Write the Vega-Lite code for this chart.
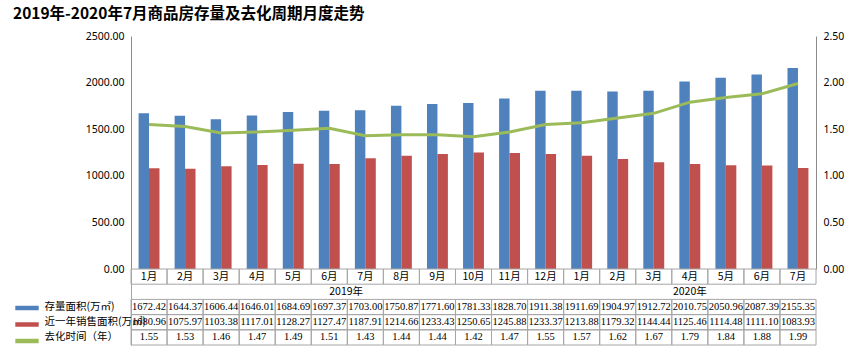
{
  "$schema": "https://vega.github.io/schema/vega-lite/v6.json",
  "padding": {"left": 13, "top": 6, "right": 5, "bottom": 5},
  "config": {"view": {"stroke": null}},
  "title": {"text": "2019年-2020年7月商品房存量及去化周期月度走势", "fontSize": 15.5, "fontWeight": "bold", "font": "Noto Sans CJK SC", "color": "#000", "offset": 9, "dx": -8},
  "data": {"values": [
      {"key": "2019-01", "mon": "1月", "year": "2019年", "stock": 1672.42, "sales": 1080.96, "time": 1.55},
      {"key": "2019-02", "mon": "2月", "year": "2019年", "stock": 1644.37, "sales": 1075.97, "time": 1.53},
      {"key": "2019-03", "mon": "3月", "year": "2019年", "stock": 1606.44, "sales": 1103.38, "time": 1.46},
      {"key": "2019-04", "mon": "4月", "year": "2019年", "stock": 1646.01, "sales": 1117.01, "time": 1.47},
      {"key": "2019-05", "mon": "5月", "year": "2019年", "stock": 1684.69, "sales": 1128.27, "time": 1.49},
      {"key": "2019-06", "mon": "6月", "year": "2019年", "stock": 1697.37, "sales": 1127.47, "time": 1.51},
      {"key": "2019-07", "mon": "7月", "year": "2019年", "stock": 1703.00, "sales": 1187.91, "time": 1.43},
      {"key": "2019-08", "mon": "8月", "year": "2019年", "stock": 1750.87, "sales": 1214.66, "time": 1.44},
      {"key": "2019-09", "mon": "9月", "year": "2019年", "stock": 1771.60, "sales": 1233.43, "time": 1.44},
      {"key": "2019-10", "mon": "10月", "year": "2019年", "stock": 1781.33, "sales": 1250.65, "time": 1.42},
      {"key": "2019-11", "mon": "11月", "year": "2019年", "stock": 1828.70, "sales": 1245.88, "time": 1.47},
      {"key": "2019-12", "mon": "12月", "year": "2019年", "stock": 1911.38, "sales": 1233.37, "time": 1.55},
      {"key": "2020-01", "mon": "1月", "year": "2020年", "stock": 1911.69, "sales": 1213.88, "time": 1.57},
      {"key": "2020-02", "mon": "2月", "year": "2020年", "stock": 1904.97, "sales": 1179.32, "time": 1.62},
      {"key": "2020-03", "mon": "3月", "year": "2020年", "stock": 1912.72, "sales": 1144.44, "time": 1.67},
      {"key": "2020-04", "mon": "4月", "year": "2020年", "stock": 2010.75, "sales": 1125.46, "time": 1.79},
      {"key": "2020-05", "mon": "5月", "year": "2020年", "stock": 2050.96, "sales": 1114.48, "time": 1.84},
      {"key": "2020-06", "mon": "6月", "year": "2020年", "stock": 2087.39, "sales": 1111.10, "time": 1.88},
      {"key": "2020-07", "mon": "7月", "year": "2020年", "stock": 2155.35, "sales": 1083.93, "time": 1.99}
  ]},
  "bounds": "flush",
  "spacing": 0,
  "vconcat": [
    {
      "width": 685,
      "height": 233,
      "layer": [
        {
          "transform": [{"fold": ["stock", "sales"], "as": ["series", "value"]}],
          "mark": {"type": "bar"},
          "encoding": {
            "x": {"field": "key", "type": "nominal", "scale": {"paddingInner": 0.42, "paddingOuter": 0.21}, "axis": null},
            "xOffset": {"field": "series", "type": "nominal", "sort": ["stock", "sales"]},
            "y": {"field": "value", "type": "quantitative", "scale": {"domain": [0, 2500]},
              "axis": {"title": null, "tickCount": 5, "format": ".2f", "grid": false, "ticks": false, "domainColor": "#8c8c8c", "labelPadding": 7, "labelFontSize": 10.5, "labelColor": "#000", "labelFont": "Noto Sans"}},
            "color": {"field": "series", "type": "nominal",
              "scale": {"domain": ["stock", "sales", "time"], "range": ["#4F81BD", "#C0504D", "#9BBB59"]},
              "legend": {"orient": "none", "legendX": -110, "legendY": 266, "title": null, "padding": 0,
                "symbolSize": 100, "rowPadding": 4.5, "labelFontSize": 10.5,
                "symbolType": "M-2.34,-0.45L2.34,-0.45L2.34,0.45L-2.34,0.45Z",
                "labelExpr": "''"}}
          }
        },
        {
          "mark": {"type": "line", "strokeWidth": 3, "color": "#9BBB59"},
          "encoding": {
            "x": {"field": "key", "type": "nominal"},
            "y": {"field": "time", "type": "quantitative", "scale": {"domain": [0, 2.5]},
              "axis": {"orient": "right", "title": null, "tickCount": 5, "format": ".2f", "grid": false, "ticks": false, "domainColor": "#8c8c8c", "labelPadding": 7, "labelFontSize": 10.5, "labelColor": "#000", "labelFont": "Noto Sans"}}
          }
        }
      ],
      "resolve": {"scale": {"y": "independent"}}
    },
    {
      "width": 685,
      "height": 76,
      "layer": [
        {
          "transform": [{"fold": ["mon", "stock", "sales", "time"], "as": ["row", "val"]}],
          "mark": {"type": "rect", "filled": false, "stroke": "#a6a6a6", "strokeWidth": 1},
          "encoding": {
            "x": {"field": "key", "type": "nominal", "scale": {"paddingInner": 0, "paddingOuter": 0}, "axis": null},
            "y": {"field": "row", "type": "nominal", "scale": {"domain": ["mon", "year", "stock", "sales", "time"], "paddingInner": 0, "paddingOuter": 0},
              "axis": {"title": null, "ticks": false, "grid": false, "domain": true, "domainColor": "#a6a6a6", "labelAlign": "left", "labelPadding": 87, "labelFontSize": 10.5, "labelColor": "#000", "labelFont": "Noto Sans CJK SC",
                "labelExpr": "datum.value == 'stock' ? '存量面积(万㎡)' : datum.value == 'sales' ? '近一年销售面积(万㎡)' : datum.value == 'time' ? '去化时间（年）' : ''"}}
          }
        },
        {
          "transform": [{"fold": ["stock", "sales", "time"], "as": ["row", "val"]}],
          "mark": {"type": "text", "font": "Liberation Sans Narrow", "fontSize": 10.5, "color": "#000"},
          "encoding": {
            "x": {"field": "key", "type": "nominal"},
            "y": {"field": "row", "type": "nominal"},
            "text": {"field": "val", "type": "quantitative", "format": ".2f"}
          }
        },
        {
          "transform": [{"fold": ["mon"], "as": ["row", "val"]}],
          "mark": {"type": "text", "font": "Noto Sans CJK SC", "fontSize": 10.5, "color": "#000"},
          "encoding": {
            "x": {"field": "key", "type": "nominal"},
            "y": {"field": "row", "type": "nominal"},
            "text": {"field": "val", "type": "nominal"}
          }
        },
        {
          "transform": [{"filter": "datum.key == '2019-06'"}, {"fold": ["year"], "as": ["row", "val"]}],
          "mark": {"type": "text", "font": "Noto Sans CJK SC", "fontSize": 10.5, "color": "#000", "align": "left"},
          "encoding": {
            "x": {"field": "key", "type": "nominal"},
            "y": {"field": "row", "type": "nominal"},
            "text": {"field": "val", "type": "nominal"}
          }
        },
        {
          "transform": [{"filter": "datum.key == '2020-04'"}, {"fold": ["year"], "as": ["row", "val"]}],
          "mark": {"type": "text", "font": "Noto Sans CJK SC", "fontSize": 10.5, "color": "#000"},
          "encoding": {
            "x": {"field": "key", "type": "nominal"},
            "y": {"field": "row", "type": "nominal"},
            "text": {"field": "val", "type": "nominal"}
          }
        }
      ]
    }
  ]
}
